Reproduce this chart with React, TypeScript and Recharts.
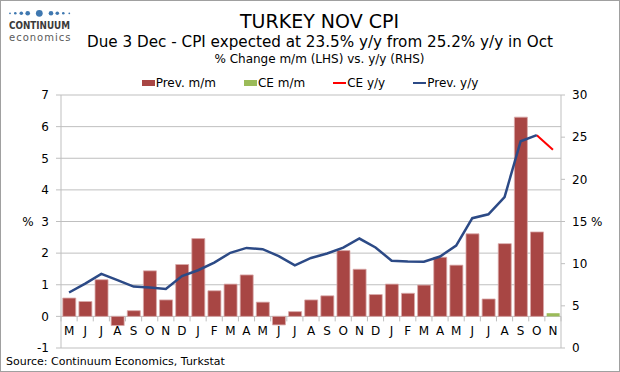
import React from 'react';
import { ComposedChart, Bar, Line, XAxis, YAxis, CartesianGrid, Legend } from 'recharts';

const months = ['M','J','J','A','S','O','N','D','J','F','M','A','M','J','J','A','S','O','N','D','J','F','M','A','M','J','J','A','S','O','N'];
const prevMoM: (number | null)[] = [0.58,0.47,1.16,-0.29,0.18,1.44,0.52,1.64,2.46,0.81,1.02,1.31,0.45,-0.27,0.15,0.52,0.65,2.08,1.49,0.69,1.02,0.73,0.99,1.87,1.62,2.61,0.55,2.30,6.30,2.67,null];
const ceMoM: (number | null)[] = [null,null,null,null,null,null,null,null,null,null,null,null,null,null,null,null,null,null,null,null,null,null,null,null,null,null,null,null,null,null,0.1];
const prevYoY: (number | null)[] = [6.58,7.64,8.79,8.05,7.28,7.16,7.00,8.53,9.22,10.13,11.29,11.87,11.72,10.90,9.79,10.68,11.20,11.90,12.98,11.92,10.35,10.26,10.23,10.85,12.15,15.39,15.85,17.90,24.52,25.24,null];
const ceYoY: (number | null)[] = [null,null,null,null,null,null,null,null,null,null,null,null,null,null,null,null,null,null,null,null,null,null,null,null,null,null,null,null,null,25.24,23.5];

const leftTicks = [-1,0,1,2,3,4,5,6,7];
const rightTicks = [0,5,10,15,20,25,30];

const data = months.map((m, i) => ({
  key: `${m}${i}`,
  label: m,
  prevMoM: prevMoM[i],
  ceMoM: ceMoM[i],
  prevYoY: prevYoY[i],
  ceYoY: ceYoY[i],
}));

const W = 620;
const H = 372;
const MT = 95;
const XH = 20;
const MB = 4;
const LW = 61;
const RW = 59;
const PLOT_H = H - MT - MB - XH;
const PLOT_W = W - LW - RW;
const LMIN = -1;
const LMAX = 7;
const ZERO_Y = MT + (PLOT_H * (LMAX - 0)) / (LMAX - LMIN);
const BAND = PLOT_W / months.length;

const FONT = "'DejaVu Sans', Verdana, sans-serif";
const GRID = '#BFBFBF';
const RED = '#A84644';
const GREEN = '#9BBB59';
const NAVY = '#2C4A86';
const LINE_RED = '#FF0000';

const CatTick = (props: any) => {
  const { x, payload, index } = props;
  const last = index === months.length - 1;
  return (
    <g>
      <line x1={x - BAND / 2} x2={x - BAND / 2} y1={ZERO_Y} y2={ZERO_Y + 5} stroke={GRID} />
      {last && <line x1={x + BAND / 2} x2={x + BAND / 2} y1={ZERO_Y} y2={ZERO_Y + 5} stroke={GRID} />}
      <text x={x} y={ZERO_Y + 19} textAnchor="middle" fontSize={12} fontFamily={FONT} fill="#000">
        {months[index] ?? payload.value}
      </text>
    </g>
  );
};

const legendItems = [
  { name: 'Prev. m/m', color: RED, type: 'rect' },
  { name: 'CE m/m', color: GREEN, type: 'rect' },
  { name: 'CE y/y', color: LINE_RED, type: 'line' },
  { name: 'Prev. y/y', color: NAVY, type: 'line' },
];

const LegendContent = () => (
  <div style={{ display: 'flex', justifyContent: 'center', gap: 28, fontFamily: FONT, fontSize: 12, lineHeight: '12px', color: '#000' }}>
    {legendItems.map((it) => (
      <div key={it.name} style={{ display: 'flex', alignItems: 'center' }}>
        <span
          style={{
            display: 'inline-block',
            width: 13,
            height: it.type === 'rect' ? 6 : 2,
            background: it.color,
            marginRight: 1,
          }}
        />
        <span>{it.name}</span>
      </div>
    ))}
  </div>
);

const Logo = () => {
  const dots = [
    { x: 10, r: 0.9 },
    { x: 15.3, r: 1.3 },
    { x: 21.3, r: 1.8 },
    { x: 27.7, r: 2.3 },
    { x: 39.3, r: 3.4 },
    { x: 51, r: 2.3 },
    { x: 57.3, r: 1.8 },
    { x: 63.3, r: 1.3 },
    { x: 69.3, r: 0.9 },
  ];
  return (
    <div style={{ position: 'absolute', left: 0, top: 0, width: 90, height: 45 }}>
      <svg width={90} height={20} style={{ position: 'absolute', left: 0, top: 0 }}>
        {dots.map((d, i) => (
          <circle key={i} cx={d.x} cy={13.3} r={d.r} fill="#3F78B0" />
        ))}
      </svg>
      <div style={{ position: 'absolute', left: 9, top: 20.5, fontFamily: FONT, fontSize: 10, fontWeight: 'bold', lineHeight: '9px', color: '#3A3A3A', whiteSpace: 'nowrap', transform: 'scaleX(0.88)', transformOrigin: 'left' }}>
        CONTINUUM
      </div>
      <div style={{ position: 'absolute', left: 9, top: 32.5, fontFamily: FONT, fontSize: 10, lineHeight: '9px', color: '#5A5A5A', letterSpacing: 1, whiteSpace: 'nowrap' }}>
        economics
      </div>
    </div>
  );
};

export default function App() {
  return (
    <div style={{ position: 'absolute', left: 0, top: 0, width: W, height: H, background: '#fff', overflow: 'hidden' }}>
      <Logo />
      <div style={{ position: 'absolute', left: 319.5, top: 12, transform: 'translateX(-50%)', whiteSpace: 'nowrap', fontFamily: FONT, fontSize: 19, lineHeight: '19px', color: '#000' }}>
        TURKEY NOV CPI
      </div>
      <div style={{ position: 'absolute', left: 320, top: 35, transform: 'translateX(-50%)', whiteSpace: 'nowrap', fontFamily: FONT, fontSize: 15.2, lineHeight: '15px', color: '#000' }}>
        Due 3 Dec - CPI expected at 23.5% y/y from 25.2% y/y in Oct
      </div>
      <div style={{ position: 'absolute', left: 319.5, top: 53, transform: 'translateX(-50%)', whiteSpace: 'nowrap', fontFamily: FONT, fontSize: 12, lineHeight: '12px', color: '#000' }}>
        % Change m/m (LHS) vs. y/y (RHS)
      </div>
      <div style={{ position: 'absolute', left: 0, top: 0 }}>
        <ComposedChart width={W} height={H} data={data} margin={{ top: MT, right: 0, bottom: MB, left: 0 }} barCategoryGap="11%">
          <CartesianGrid yAxisId="left" horizontal vertical={false} stroke={GRID} />
          <XAxis
            dataKey="key"
            height={XH}
            interval={0}
            tickSize={0}
            tickMargin={0}
            axisLine={false}
            tickLine={false}
            tick={CatTick}
          />
          <YAxis
            yAxisId="left"
            width={LW}
            domain={[LMIN, LMAX]}
            ticks={leftTicks}
            interval={0}
            tickSize={5}
            tickMargin={7}
            axisLine={{ stroke: GRID }}
            tickLine={{ stroke: GRID }}
            tick={{ fontSize: 12, fontFamily: FONT, fill: '#000' }}
            tickFormatter={(v: number) => (v === 3 ? '%\u00a0\u00a03' : String(v))}
          />
          <YAxis
            yAxisId="right"
            orientation="right"
            width={RW}
            domain={[0, 30]}
            ticks={rightTicks}
            interval={0}
            tickSize={4}
            tickMargin={7}
            axisLine={{ stroke: GRID }}
            tickLine={{ stroke: GRID }}
            tick={{ fontSize: 12, fontFamily: FONT, fill: '#000', textAnchor: 'start' }}
            tickFormatter={(v: number) => (v === 15 ? '15 %' : String(v))}
          />
          <Legend
            verticalAlign="middle"
            align="center"
            layout="horizontal"
            wrapperStyle={{ top: 77, left: 0, width: W }}
            content={<LegendContent />}
          />
          <Bar yAxisId="left" dataKey="prevMoM" name="Prev. m/m" stackId="m" fill={RED} stroke="#D9AAA9" strokeWidth={0.8} isAnimationActive={false} />
          <Bar yAxisId="left" dataKey="ceMoM" name="CE m/m" stackId="m" fill={GREEN} isAnimationActive={false} />
          <Line yAxisId="right" dataKey="ceYoY" name="CE y/y" type="linear" stroke={LINE_RED} strokeWidth={2} dot={false} isAnimationActive={false} />
          <Line yAxisId="right" dataKey="prevYoY" name="Prev. y/y" type="linear" stroke={NAVY} strokeWidth={2.5} dot={false} isAnimationActive={false} />
        </ComposedChart>
      </div>
      <div style={{ position: 'absolute', left: 6, top: 356, fontFamily: FONT, fontSize: 11, lineHeight: '11px', color: '#000', whiteSpace: 'nowrap' }}>
        Source: Continuum Economics, Turkstat
      </div>
      <div style={{ position: 'absolute', left: 0, top: 0, width: W, height: H, boxSizing: 'border-box', border: '1px solid #A0A0A0', pointerEvents: 'none' }} />
    </div>
  );
}
